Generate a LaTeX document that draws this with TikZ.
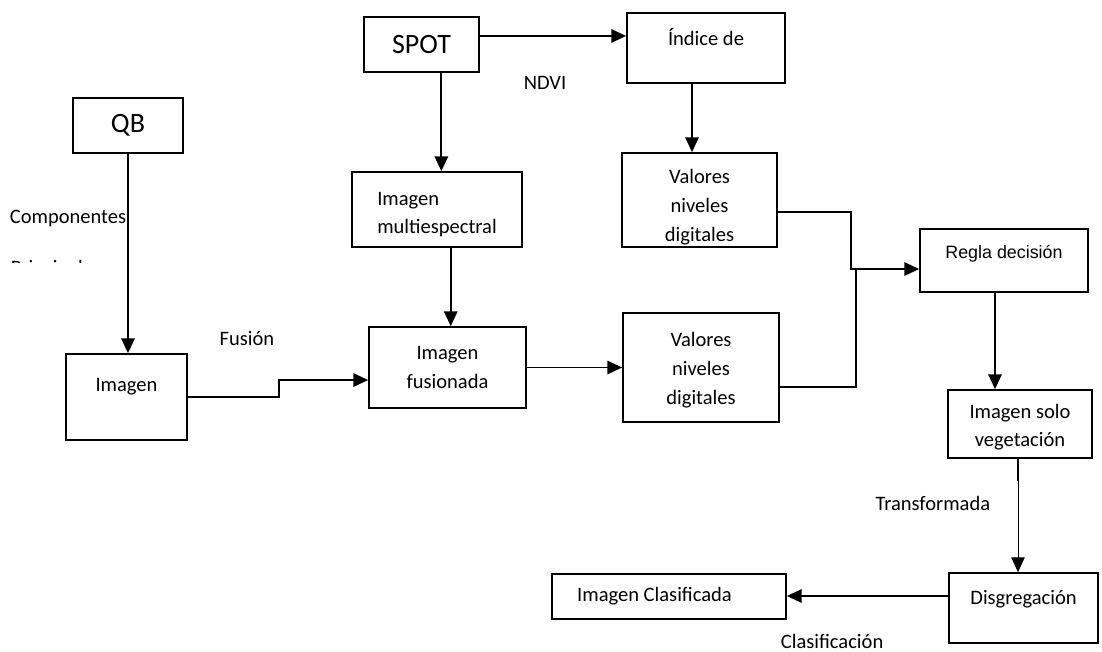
\documentclass[tikz,border=0pt]{standalone}
\usepackage{fontspec}
\setmainfont{Carlito}
\newfontfamily\arialfont{Liberation Sans}
\usetikzlibrary{arrows.meta,calc}

\begin{document}
\begin{tikzpicture}[x=0.75pt,y=-0.75pt,>={Triangle[length=11pt,width=10pt]},line width=1.3pt]
\tikzstyle{box}=[draw,inner sep=0pt,align=center,font=\fontsize{15.4}{21.75}\selectfont]
\tikzstyle{big}=[box,font=\fontsize{21}{25}\selectfont]
\tikzstyle{lbl}=[inner sep=0pt,font=\fontsize{15.4}{21.75}\selectfont]
\useasboundingbox (0,0) rectangle (1102,652);
% boxes
\node[big,minimum width=82.5pt,minimum height=41.25pt] (qb) at (128,125.5) {QB};
\node[box,minimum width=90.75pt,minimum height=64.5pt] (img) at (126.5,397) {Imagen\\[-3.75pt]\mbox{}};
\node[big,minimum width=86.25pt,minimum height=41.25pt] (spot) at (421.5,44.5) {SPOT};
\node[box,minimum width=118.5pt,minimum height=52.5pt] (ind) at (706,48) {Índice de\\[-5pt]\mbox{}};
\node[box,align=left,minimum width=127.5pt,minimum height=56.25pt] (mult) at (437,209.5) {\mbox{}\\[-4.5pt]Imagen\\[-1pt]multiespectral};
\node[box,minimum width=117.75pt,minimum height=60.75pt] (fus) at (447.5,367.5) {Imagen\\fusionada};
\node[box,minimum width=116.25pt,minimum height=70.5pt] (val1) at (699.5,200) {\mbox{}\\[-0.5pt]Valores\\niveles\\digitales};
\node[box,minimum width=117pt,minimum height=81.75pt] (val2) at (701,367.5) {\mbox{}\\[-6.5pt]Valores\\niveles\\digitales};
\node[box,font=\arialfont\fontsize{13.4}{21.75}\selectfont,minimum width=126pt,minimum height=47.25pt] (regla) at (1004,260.5) {Regla decisión\\[-9pt]\mbox{}};
\node[box,minimum width=108pt,minimum height=51pt] (veg) at (1020,424) {\mbox{}\\[-6.5pt]Imagen solo\\[-1pt]vegetación};
\node[box,minimum width=111.75pt,minimum height=52.5pt] (dis) at (1023.5,608) {Disgregación\\[-5.25pt]\mbox{}};
\node[box,minimum width=175.5pt,minimum height=33.75pt] (cla) at (669,596.5) {Imagen Clasificada\hspace*{21.75pt}};
% labels
\node[lbl,anchor=east] (comp) at (127,218) {Componentes};
\begin{scope}
\clip (0,258) rectangle (130,262);
\node[lbl,anchor=base west] (prin) at (10,274) {Principales};
\end{scope}
\node[lbl] (fusion) at (247,339) {Fusión};
\node[lbl] (ndvi) at (545,83) {NDVI};
\node[lbl,anchor=east] (trans) at (991,503) {Transformada};
\node[lbl,anchor=west] (clasif) at (780,641) {Clasificación};
% arrows
\draw[->] (qb.south) -- (qb.south |- img.north);
\coordinate (s1) at ([yshift=6.4pt]spot.east);
\draw[->] (s1) -- (s1 -| ind.west);
\coordinate (s2) at ($(spot.south west)!0.67!(spot.south east)$);
\draw[->] (s2) -- (s2 |- mult.north);
\coordinate (m1) at ($(mult.south west)!0.58!(mult.south east)$);
\draw[->] (m1) -- (m1 |- fus.north);
\coordinate (f1) at ([yshift=-9.4pt]fus.west);
\draw[->] (img.east) -- ++(91,0) |- (f1);
\draw[->] (fus.east) -- (val2.west);
\coordinate (i1) at ([xshift=-10.5pt]ind.south);
\draw[->] (i1) -- (i1 |- val1.north);
\coordinate (v1) at ([yshift=-9pt]val1.east);
\coordinate (r1) at ([yshift=-6.4pt]regla.west);
\draw[->] (v1) -- ++(73,0) |- (r1);
\coordinate (v2) at ([yshift=-14.6pt]val2.east);
\draw (v2) -- ++(76,0) coordinate (j) -- (j |- r1);
\coordinate (r2) at ([xshift=-6.75pt]regla.south);
\draw[->] (r2) -- (r2 |- veg.north);
\coordinate (g1) at ([xshift=-1.5pt]veg.south);
\draw (g1) -- ++(0,22) coordinate (g2);
\draw[->,line width=0.6pt] (g2) -- (g2 |- dis.north);
\coordinate (d1) at ([yshift=9pt]dis.west);
\draw[->] (d1) -- (d1 -| cla.east);
\end{tikzpicture}
\end{document}
